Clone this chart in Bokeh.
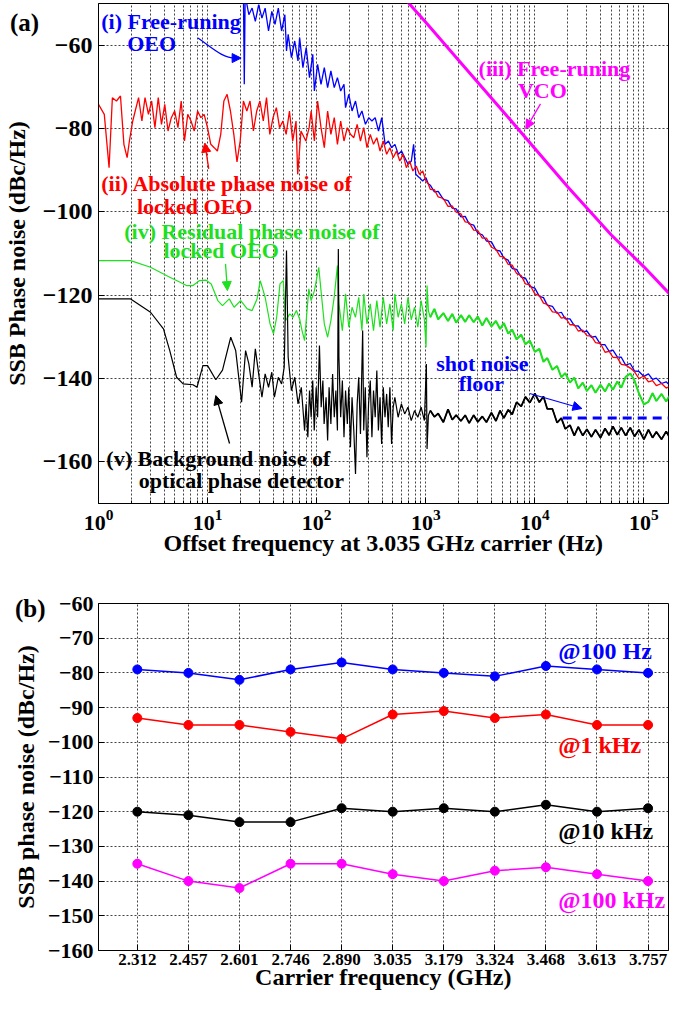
from bokeh.plotting import figure
from bokeh.layouts import column
from bokeh.models import FixedTicker, Arrow, NormalHead, Range1d, Div
from bokeh.core.properties import value
from bokeh.embed import file_html
from bokeh.resources import INLINE

FONT = "Liberation Serif"
BLUE = "#0000ff"
RED = "#ff0000"
GREEN = "#1ee01e"
MAGENTA = "#ff00ff"
BLACK = "#000000"

# ---------------- panel (a) data ----------------
red_f_lo = [1.0, 1.13, 1.25, 1.34, 1.46, 1.59, 1.71, 1.83, 1.92, 2.06,
            2.17, 2.33, 2.5, 2.67, 2.87, 3.07, 3.29, 3.53, 3.78, 4.05,
            4.34, 4.65, 4.99, 5.35, 5.73, 6.14, 6.58, 7.05, 7.55, 8.1,
            8.68, 9.3, 9.98, 10.7, 11.5, 12.3, 13.2, 14.1, 15.1, 16.2,
            17.4, 18.6, 19.9, 21.3, 22.9, 24.5, 26.3, 28.2, 30.2, 32.4,
            34.7, 37.2, 39.8, 42.7, 45.7, 49.0, 52.5, 56.3, 60.3, 64.7,
            67.0, 71.8, 79.6, 85.3, 89, 95.3, 102, 109.6, 117.5, 126,
            135, 145, 155, 166, 178, 191, 204, 219, 235, 252,
            270, 289, 310, 332, 356, 381, 408, 438, 469, 503,
            539, 578, 619, 664, 711, 762, 817, 875, 938, 1005,
            1050]
red_db_lo = [-74.2, -76.6, -89.4, -72.6, -73.4, -72.2, -83.8, -87.0, -83.0, -78.2,
             -75.8, -72.6, -78.2, -72.6, -76.6, -73.4, -79.8, -72.6, -79.0, -74.2,
             -80.6, -77.4, -75.8, -79.8, -73.4, -83.0, -76.6, -78.2, -80.6, -75.8,
             -77.4, -76.6, -79.8, -83.8, -84.6, -85.4, -81.4, -73.4, -71.8, -75.8,
             -81.4, -88.0, -83.0, -73.4, -75.8, -73.4, -80.6, -75.8, -73.4, -78.2,
             -72.6, -81.4, -77.4, -75.0, -79.8, -78.2, -81.4, -75.8, -83.0, -78.2,
             -91.0, -80.6, -83.0, -79.8, -75.8, -83.0, -73.4, -79.8, -84.6, -75.8,
             -81.4, -77.4, -83.8, -78.2, -83.0, -79.8, -81.4, -82.2, -79.0, -83.0,
             -79.8, -84.6, -81.4, -83.8, -82.2, -85.4, -83.0, -86.2, -84.6, -87.0,
             -85.4, -87.8, -86.2, -89.4, -87.8, -90.2, -89.0, -91.0, -90.2, -92.6,
             -93.2]

blue_f_lo = [21.3, 21.7, 22.1, 23.9, 25.6, 27.4, 29.4, 31.5, 33.7, 36.2,
             38.8, 41.5, 44.5, 47.7, 51.1, 52.9, 54.8, 58.7, 62.9, 67.4,
             69.8, 74.8, 80.2, 86.0, 92.1, 95.3, 102, 109.6, 117.5, 126,
             135, 145, 155, 166, 178, 184, 197, 211, 227, 243,
             260, 280, 300, 321, 344, 369, 395, 424, 455, 487,
             522, 560, 600, 643, 689, 738, 774, 810, 875, 937,
             1005, 1050]
blue_db_lo = [-47.0, -69.4, -48.0, -52.7, -51.1, -54.3, -50.3, -53.5, -51.1, -56.6,
              -51.9, -55.0, -51.1, -56.6, -52.7, -61.4, -57.4, -63.0, -59.0, -63.8,
              -58.2, -65.4, -60.6, -67.8, -62.2, -71.0, -64.6, -69.4, -65.4, -70.2,
              -66.2, -70.2, -67.8, -71.0, -69.4, -75.0, -71.8, -75.8, -73.4, -77.4,
              -75.8, -79.0, -77.4, -78.2, -77.4, -80.6, -77.4, -83.8, -83.0, -84.6,
              -83.8, -86.2, -85.4, -87.0, -88.6, -87.8, -83.8, -91.0, -91.8, -92.6,
              -91.8, -93.2]

green_f_lo = [1.0, 1.97, 3.0, 4.5, 5.6, 6.4, 7.35, 8.45, 9.7, 10.8,
              12.4, 13.7, 15.8, 17.5, 20.1, 23.1, 25.6, 28.4, 30.4, 33.7,
              37.4, 40.2, 43.0, 46.1, 49.4, 51.8, 56.7, 60.8, 65.2, 69.8,
              73.4, 77.5, 84.7, 89.0, 95.4, 104.5, 109.6, 117.5, 126, 135,
              144.7, 155, 160, 172, 184, 197, 211, 227, 243, 260,
              270, 289, 310, 332, 356, 381, 408, 438, 469, 503,
              521, 558, 598, 641, 687, 736, 789, 846, 907, 972,
              1006, 1028, 1057]
green_db_lo = [-111.7, -111.7, -113.3, -115.7, -116.9, -117.7, -117.7, -116.5, -116.4, -117.3,
               -121.3, -122.5, -120.9, -122.9, -121.3, -123.3, -123.7, -120.9, -116.5, -120.5,
               -126.9, -129.3, -125.3, -117.3, -116.5, -126.1, -124.5, -125.3, -123.7, -125.7,
               -128.5, -130.9, -118.5, -121.3, -118.9, -113.3, -118.9, -126.9, -130.1, -126.1,
               -120.5, -112.9, -122.1, -128.5, -119.7, -127.7, -122.9, -125.3, -120.5, -128.5,
               -119.7, -126.9, -122.1, -128.5, -121.3, -127.7, -120.5, -126.9, -122.1, -128.5,
               -119.7, -125.3, -122.1, -126.9, -120.5, -125.9, -122.9, -127.7, -121.3, -125.9,
               -132.5, -117.7, -123.7]

black_f_lo = [1.0, 1.97, 3.0, 3.94, 4.5, 5.2, 5.97, 7.35, 8.0, 9.06,
              10.0, 11.9, 13.7, 16.3, 18.1, 20.5, 22.3, 23.9, 25.6, 27.4,
              29.4, 31.5, 33.7, 36.2, 38.8, 41.0, 44.5, 47.7, 50.4, 52.9,
              54.8, 58.7, 63.0, 67.5, 72.3, 77.5, 80, 83, 86, 89,
              92, 95, 99, 102, 106, 110, 114, 117, 122, 126,
              130, 135, 140, 145, 150, 155, 158, 160, 166, 172,
              178, 184, 191, 197, 204, 211, 219, 227, 235, 243,
              252, 264, 270, 279, 289, 299, 310, 321, 332, 344,
              356, 368, 381, 394, 408, 423, 438, 453, 469, 486,
              503, 521, 558, 598, 641, 687, 736, 789, 846, 907,
              972, 1013, 1028, 1057]
black_db_lo = [-120.9, -120.9, -124.1, -128.1, -133.3, -139.7, -141.3, -141.5, -142.1, -136.9,
               -136.9, -140.3, -138.0, -130.1, -133.3, -145.7, -133.3, -136.5, -142.1, -132.9,
               -138.9, -144.5, -138.9, -142.1, -138.5, -144.5, -139.7, -141.3, -137.3, -109.3,
               -134.9, -142.9, -139.7, -146.1, -142.1, -152.5, -146.1, -154.1, -142.9, -149.3,
               -140.5, -152.5, -142.1, -149.3, -132.1, -146.9, -140.5, -150.9, -144.5, -154.9,
               -142.1, -150.9, -138.9, -149.3, -142.9, -152.5, -108.9, -134.9, -149.3, -140.5,
               -154.1, -142.9, -150.9, -142.1, -156.5, -144.5, -152.5, -162.9, -146.1, -139.7,
               -153.3, -128.5, -152.5, -142.1, -158.9, -146.1, -140.5, -154.1, -142.9, -149.3,
               -138.1, -152.5, -144.5, -155.7, -142.1, -149.3, -143.7, -151.7, -142.1, -155.7,
               -146.9, -144.5, -149.3, -146.1, -148.5, -146.9, -150.1, -147.7, -149.3, -146.9,
               -150.1, -136.5, -156.9, -148.9]

f_hi = [1100, 1200, 1300, 1450, 1600, 1750, 1900, 2100, 2300, 2500,
        2750, 3000, 3300, 3600, 4000, 4400, 4800, 5200, 5700, 6200,
        6800, 7500, 8200, 9000, 10000, 11000, 12000, 13000, 14500, 16000,
        17500, 19000, 21000, 23000, 25000, 27500, 30000, 33000, 36000, 40000,
        44000, 48000, 52000, 57000, 62000, 68000, 75000, 82000, 90000, 100000,
        110000, 120000, 130000, 145000, 160000, 175000, 190000, 200000]
blue_db_hi = [-93.6, -95.2, -95.1, -97.0, -97.3, -99.1, -99.3, -101.2, -101.1, -102.9,
              -103.2, -105.1, -105.5, -107.0, -107.2, -109.2, -109.4, -111.1, -111.6, -113.6,
              -113.8, -115.7, -115.9, -117.9, -118.3, -120.3, -120.6, -122.4, -122.7, -124.4,
              -124.1, -125.7, -125.7, -127.3, -127.4, -128.8, -128.6, -130.1, -129.9, -131.8,
              -131.9, -133.5, -133.2, -134.8, -134.9, -136.8, -136.4, -138.2, -138.3, -139.5,
              -138.9, -140.2, -139.9, -141.2, -140.8, -141.8, -141.2, -142.2]
red_db_hi = [-94.6, -94.7, -96.4, -96.8, -98.7, -98.6, -100.1, -100.5, -102.4, -102.6,
             -104.4, -104.5, -106.3, -106.3, -108.5, -109.0, -110.7, -110.8, -112.6, -112.8,
             -114.8, -115.3, -117.3, -117.5, -119.7, -120.1, -121.9, -122.2, -124.0, -124.1,
             -125.5, -125.3, -127.1, -127.1, -128.6, -128.4, -129.7, -129.8, -131.4, -131.6,
             -133.7, -133.5, -134.9, -135.0, -136.6, -136.8, -137.5, -138.4, -140.0, -139.4,
             -140.8, -140.5, -141.7, -141.2, -142.3, -141.8, -143.0, -142.5]
green_db_hi = [-125.3, -123.3, -125.8, -124.3, -126.2, -124.5, -126.6, -124.8, -126.4, -124.8,
               -126.5, -125.1, -127.3, -125.5, -127.5, -126.2, -128.1, -126.7, -129.2, -128.3,
               -130.6, -129.5, -131.8, -130.9, -133.6, -132.9, -136.0, -135.1, -137.9, -137.0,
               -139.7, -138.7, -141.0, -139.8, -142.4, -141.0, -143.0, -141.6, -143.4, -141.5,
               -143.1, -141.2, -142.7, -140.7, -142.2, -139.6, -138.8, -140.5, -143.6, -146.2,
               -145.6, -143.5, -145.4, -143.7, -145.5, -143.8, -145.6, -143.7]
black_db_hi = [-147.7, -149.2, -148.4, -150.5, -147.4, -149.9, -148.8, -150.2, -148.8, -150.7,
               -148.8, -150.4, -149.1, -150.5, -148.2, -150.2, -147.7, -149.5, -147.5, -148.6,
               -145.7, -146.7, -144.4, -145.8, -143.6, -145.7, -144.3, -147.3, -147.3, -150.6,
               -149.5, -152.1, -151.2, -153.7, -151.6, -153.7, -152.2, -154.0, -152.3, -154.2,
               -152.0, -153.6, -151.5, -153.5, -151.8, -153.7, -151.8, -153.9, -152.3, -154.6,
               -152.3, -154.2, -152.8, -154.6, -152.7, -154.5, -153.1, -154.7]

vco_f = [650, 1000, 2000, 5000, 10000, 20000, 50000, 100000, 200000]
vco_db = [-49.0, -54.5, -63.6, -75.6, -84.8, -94.0, -105.5, -113.2, -121.5]

shot_f = [18000, 200000]
shot_db = [-149.5, -149.5]

decade_ticks = [1, 10, 100, 1000, 10000, 100000]
y_ticks_a = [-160, -140, -120, -100, -80, -60]

# ---------------- panel (b) data ----------------
carrier_labels = ["2.312", "2.457", "2.601", "2.746", "2.890", "3.035",
                  "3.179", "3.324", "3.468", "3.613", "3.757"]
pn_100hz = [-79, -80, -82, -79, -77, -79, -80, -81, -78, -79, -80]
pn_1khz = [-93, -95, -95, -97, -99, -92, -91, -93, -92, -95, -95]
pn_10khz = [-120, -121, -123, -123, -119, -120, -119, -120, -118, -120, -119]
pn_100khz = [-135, -140, -142, -135, -135, -138, -140, -137, -136, -138, -140]
series_b = [("@100 Hz", pn_100hz, BLUE, -73.7),
            ("@1 kHz", pn_1khz, RED, -100.9),
            ("@10 kHz", pn_10khz, BLACK, -125.5),
            ("@100 kHz", pn_100khz, MAGENTA, -145.4)]


def style(fig, label_size):
    fig.outline_line_color = "black"
    fig.outline_line_width = 1
    fig.outline_line_alpha = 1
    fig.background_fill_color = "white"
    fig.border_fill_color = "white"
    for ax in fig.axis:
        ax.axis_line_color = "black"
        ax.major_tick_in = 6
        ax.major_tick_out = 0
        ax.minor_tick_in = 3
        ax.minor_tick_out = 0
        ax.major_tick_line_color = "black"
        ax.minor_tick_line_color = "black"
        ax.major_label_text_font = FONT
        ax.major_label_text_font_style = "bold"
        ax.major_label_text_color = "black"
        ax.axis_label_text_font = FONT
        ax.axis_label_text_font_style = "bold"
        ax.axis_label_text_font_size = label_size
        ax.axis_label_text_color = "black"
    for g in fig.grid:
        g.grid_line_color = "#222222"
        g.grid_line_dash = "2 2"
        g.grid_line_width = 1
        g.grid_line_alpha = 0.85


def ann(fig, xs, ys, texts, color, size="22px"):
    fig.text(x=xs, y=ys, text=texts, text_color=color, text_font=value(FONT),
             text_font_style="bold", text_font_size=size,
             text_align="left", text_baseline="middle")


def arrow(fig, x0, y0, x1, y1, color):
    fig.add_layout(Arrow(end=NormalHead(size=9, fill_color=color, line_color=color, line_width=1),
                         x_start=x0, y_start=y0, x_end=x1, y_end=y1,
                         line_color=color, line_width=1.3))


# ================= panel (a) =================
p = figure(width=669, height=566, x_axis_type="log",
           x_range=Range1d(1, 1.68e5), y_range=Range1d(-170, -50),
           output_backend="svg", toolbar_location=None,
           min_border_left=89, min_border_right=1, min_border_top=3,
           min_border_bottom=63)
minor_a = [m * 10 ** e for e in range(0, 6) for m in range(2, 10)]
xt = FixedTicker(ticks=decade_ticks, minor_ticks=minor_a)
p.xaxis.ticker = xt
p.xgrid.ticker = xt
yt = FixedTicker(ticks=y_ticks_a)
p.yaxis.ticker = yt
p.ygrid.ticker = yt
style(p, "24px")
p.xaxis.major_label_text_font_size = "22px"
p.yaxis.major_label_text_font_size = "24px"
p.xgrid.minor_grid_line_color = "#222222"
p.xgrid.minor_grid_line_dash = "2 2"
p.xgrid.minor_grid_line_alpha = 0.85
p.xaxis.axis_label = "Offset frequency at 3.035 GHz carrier (Hz)"
p.yaxis.axis_label = "SSB Phase noise (dBc/Hz)"
p.yaxis.major_label_standoff = 6
p.yaxis.axis_label_standoff = 10
p.xaxis.major_label_standoff = 6
p.xaxis.axis_label_standoff = -3

p.line(vco_f, vco_db, line_color=MAGENTA, line_width=3)
p.line(green_f_lo + f_hi, green_db_lo + green_db_hi, line_color=GREEN, line_width=1.2)
p.line(f_hi, green_db_hi, line_color=GREEN, line_width=2.0)
p.line(black_f_lo + f_hi, black_db_lo + black_db_hi, line_color=BLACK, line_width=1.2)
p.line(f_hi, black_db_hi, line_color=BLACK, line_width=1.8)
p.line(blue_f_lo + f_hi, blue_db_lo + blue_db_hi, line_color=BLUE, line_width=1.3)
p.line(red_f_lo + f_hi, red_db_lo + red_db_hi, line_color=RED, line_width=1.3)
p.line(shot_f, shot_db, line_color=BLUE, line_width=3, line_dash="9 6")

ann(p, [1.06, 1.83], [-54.25, -59.5], ["(i) Free-runing", "OEO"], BLUE)
ann(p, [1.06, 2.25], [-93.3, -98.6], ["(ii) Absolute phase noise of", "locked OEO"], RED)
ann(p, [3048, 6998], [-65.5, -70.8], ["(iii) Free-runing", "VCO"], MAGENTA)
ann(p, [1.72, 3.94], [-104.6, -109.3], ["(iv) Residual phase noise of", "locked OEO"], GREEN)
ann(p, [1.18, 2.34], [-159.2, -164.4], ["(v) Background noise of", "optical phase detector"], BLACK)
ann(p, [1247, 2010], [-136.4, -141.2], ["shot noise", "floor"], BLUE)

p.bezier(x0=[8.16], y0=[-58.3], x1=[18.0], y1=[-63.1], cx0=[11.1], cy0=[-60.7],
         cx1=[13.7], cy1=[-63.1], line_color=BLUE, line_width=1.3)
arrow(p, 18.0, -63.1, 20.3, -63.1, BLUE)
arrow(p, 10.25, -89.7, 9.44, -83.5, RED)
arrow(p, 14.6, -112.5, 15.2, -118.9, GREEN)
arrow(p, 11270, -74.1, 8260, -80.1, MAGENTA)
arrow(p, 15.9, -155.6, 11.9, -144.1, BLACK)
arrow(p, 8970, -143.6, 27000, -147.2, BLUE)

# ================= panel (b) =================
q = figure(width=669, height=429, x_range=Range1d(-0.76, 10.40), y_range=Range1d(-160, -60),
           output_backend="svg", toolbar_location=None,
           min_border_left=95, min_border_right=1, min_border_top=37,
           min_border_bottom=45)
xi = list(range(len(carrier_labels)))
xtb = FixedTicker(ticks=xi)
q.xaxis.ticker = xtb
q.xgrid.ticker = xtb
ytb = FixedTicker(ticks=list(range(-160, -59, 10)))
q.yaxis.ticker = ytb
q.ygrid.ticker = ytb
q.xaxis.major_label_overrides = {i: lbl for i, lbl in enumerate(carrier_labels)}
style(q, "24px")
q.xaxis.major_label_text_font_size = "17px"
q.yaxis.major_label_text_font_size = "22px"
q.xaxis.axis_label = "Carrier frequency (GHz)"
q.yaxis.axis_label = "SSB phase noise (dBc/Hz)"
q.yaxis.major_label_standoff = 5
q.yaxis.axis_label_standoff = 6
q.xaxis.major_label_standoff = 3
q.xaxis.axis_label_standoff = -4

for name, vals, col, ylab in series_b:
    q.line(xi, vals, line_color=col, line_width=1.5)
    q.scatter(xi, vals, size=9, fill_color=col, line_color=col, marker="circle")
    ann(q, [8.24], [ylab], [name], col, size="24px")

# panel letters, overlaid on the figure borders
panel_tag_style = ("position:absolute;z-index:10;margin:0;padding:0;line-height:1;"
                   "font-family:'Liberation Serif';font-weight:bold;font-size:25px;color:black;")
tags = Div(text=('<div style="%sleft:5px;top:-990px;">(a)</div>'
                 '<div style="%sleft:10px;top:-404px;">(b)</div>') % (panel_tag_style, panel_tag_style),
           width=669, height=0, styles={"overflow": "visible"})

layout = column(p, q, tags)
open("out.html", "w").write(file_html(layout, INLINE))
